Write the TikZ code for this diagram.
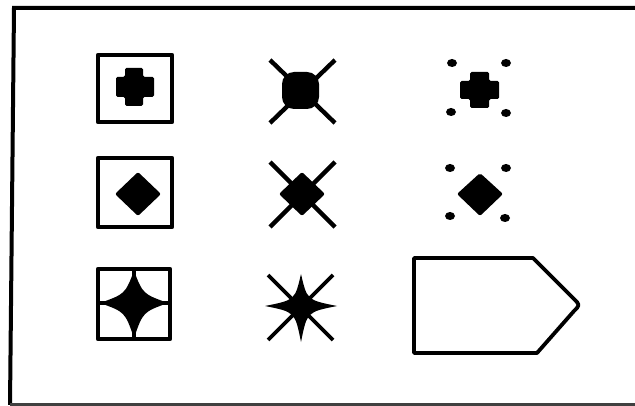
\documentclass[tikz,border=0pt]{standalone}
\begin{document}
\begin{tikzpicture}[x=1pt,y=-1pt,
  frameline/.style={line width=4pt,black},
  boxline/.style={line width=4.4pt,black,line join=round},
  xline/.style={line width=4.4pt,black},
  thinx/.style={line width=3.8pt,black},
  dotmark/.style={fill=black},
  solid fill/.style={fill=black}]
\useasboundingbox (0,0) rectangle (635,406);
% frame
\draw[frameline] (636,8) -- (14,8) -- (10,405);
\draw[line width=2.4pt,black!75] (10,404.5) -- (636,404.5);

% ---- column 1 ----
% row 1: box with cross
\draw[boxline] (98,55) rectangle (172,122);
\fill[solid fill,rounded corners=1.5pt] (125,68) -- (143,68) -- (143,77) -- (154,77) -- (154,97) -- (143,97) -- (143,106) -- (125,106) -- (125,97) -- (116,97) -- (116,77) -- (125,77) -- cycle;
% row 2: box with diamond
\draw[boxline] (98,158) rectangle (172,227);
\fill[solid fill,rounded corners=2pt] (138,172) -- (161,194) -- (138,216) -- (115,194) -- cycle;
% row 3: box with cross lines and 4-point star
\draw[boxline] (98,269) rectangle (170,339);
\draw[thinx] (134,269) -- (134,339);
\draw[thinx] (98,303) -- (170,303);
\fill[solid fill] (134,271) .. controls (143,294) .. (168,303) .. controls (143,312) .. (134,338) .. controls (125,312) .. (100,303) .. controls (125,294) .. cycle;

% ---- column 2 ----
% row 1: X with blob
\draw[xline] (270,60) -- (335,123);
\draw[xline] (335,60) -- (270,123);
\fill[solid fill,rounded corners=12pt] (282,72) rectangle (319,109);
% row 2: X with diamond
\draw[xline] (270,162) -- (335,227);
\draw[xline] (335,162) -- (270,227);
\fill[solid fill,rounded corners=2pt] (302,172) -- (325,194) -- (302,216) -- (279,194) -- cycle;
% row 3: X with 4-point star
\draw[thinx] (268,275) -- (333,340);
\draw[thinx] (333,275) -- (268,340);
\fill[solid fill] (301,274) .. controls (307,300) .. (337,306) .. controls (307,312) .. (301,342) .. controls (295,312) .. (265,306) .. controls (295,300) .. cycle;

% ---- column 3 ----
% row 1: cross with dots
\fill[solid fill,rounded corners=1.5pt] (470,72) -- (489,72) -- (489,81) -- (499,81) -- (499,99) -- (489,99) -- (489,108) -- (470,108) -- (470,99) -- (460,99) -- (460,81) -- (470,81) -- cycle;
\fill[dotmark] (452,63) ellipse (5pt and 4pt);
\fill[dotmark] (506,63) ellipse (5pt and 4pt);
\fill[dotmark] (451,112) ellipse (5pt and 4pt);
\fill[dotmark] (506,113) ellipse (5pt and 4pt);
% row 2: diamond with dots
\fill[solid fill,rounded corners=2pt] (480,173) -- (503,194) -- (480,216) -- (457,194) -- cycle;
\fill[dotmark] (450,168) ellipse (5pt and 4pt);
\fill[dotmark] (506,168) ellipse (5pt and 4pt);
\fill[dotmark] (450,216) ellipse (5pt and 4pt);
\fill[dotmark] (505,218) ellipse (5pt and 4pt);
% row 3: pentagon arrow
\draw[boxline,line width=3.8pt] (414,258) -- (533,258) -- (574,299) .. controls (580,305) .. (574,311) -- (537,353) -- (414,353) -- cycle;
\end{tikzpicture}
\end{document}
